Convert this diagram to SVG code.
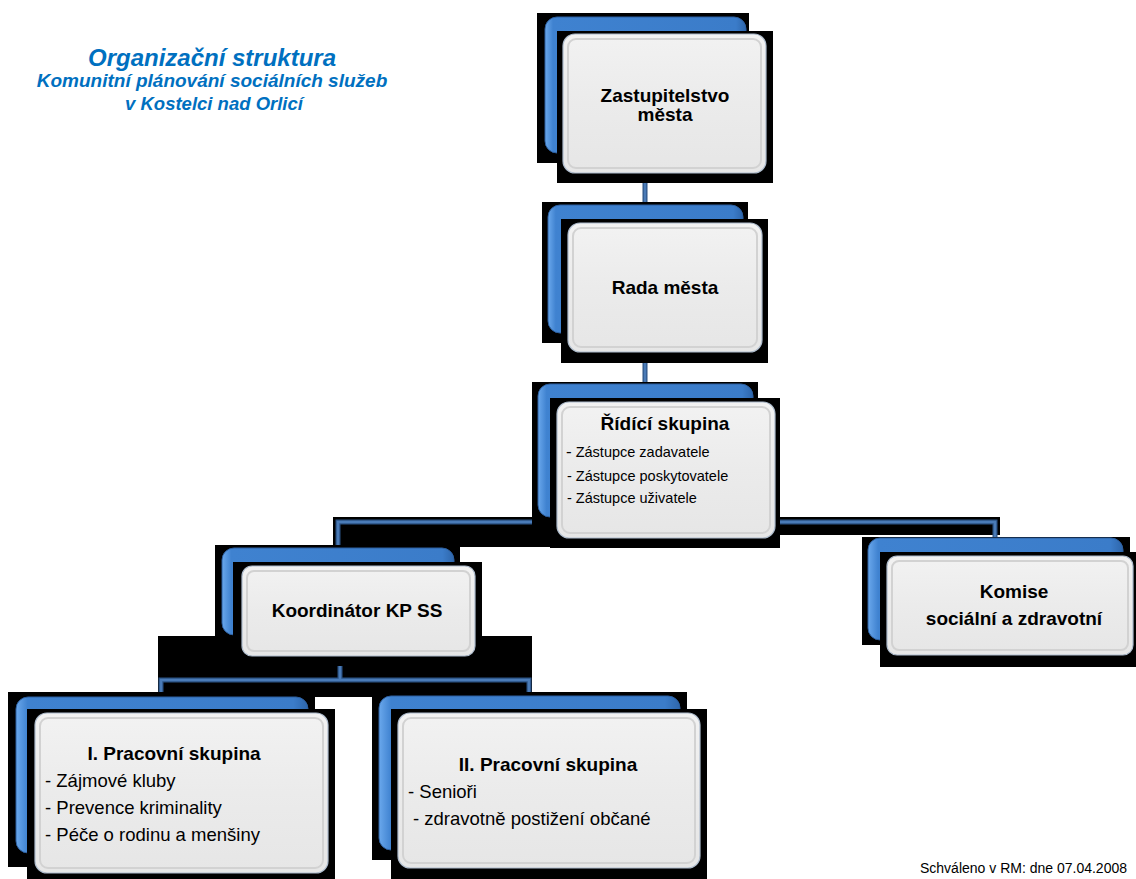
<svg xmlns="http://www.w3.org/2000/svg" width="1136" height="879" viewBox="0 0 1136 879">
<defs>
<linearGradient id="blueG" x1="0" y1="0" x2="1" y2="0">
<stop offset="0" stop-color="#6aa8ec"/>
<stop offset="0.04" stop-color="#3f82d0"/>
<stop offset="0.95" stop-color="#3b7cc9"/>
<stop offset="1" stop-color="#2e66ab"/>
</linearGradient>
<linearGradient id="grayG" x1="0" y1="0" x2="0" y2="1">
<stop offset="0" stop-color="#f2f2f2"/>
<stop offset="0.5" stop-color="#ebebeb"/>
<stop offset="1" stop-color="#e6e6e6"/>
</linearGradient>
</defs>
<style>
.blk{fill:#000}
.blue{fill:url(#blueG);stroke:#2d5f9f;stroke-width:1}
.gray{fill:url(#grayG);stroke:#aebccd;stroke-width:1.2}
.bevel{fill:none;stroke:#d2d2d2;stroke-width:2}
.t{font-family:"Liberation Sans",Arial,sans-serif;fill:#000}
.b{font-weight:bold;font-size:19px;text-anchor:middle}
.s{font-size:14.5px}
.m{font-size:18.5px}
.head{font-family:"Liberation Sans",Arial,sans-serif;font-weight:bold;font-style:italic;fill:#0070c0;text-anchor:middle}
.lo{fill:none;stroke:#2b5283;stroke-width:5}
.li{fill:none;stroke:#4a7bb7;stroke-width:2.6}
</style>
<rect width="1136" height="879" fill="#fff"/>

<g id="title">
<text class="head" x="212" y="66" font-size="24">Organizační struktura</text>
<text class="head" x="212" y="87" font-size="19">Komunitní plánování sociálních služeb</text>
<text class="head" x="214" y="110" font-size="18.5">v Kostelci nad Orlicí</text>
</g>

<g id="connectors">
<rect class="blk" x="333" y="517" width="667" height="18"/>
<rect class="blk" x="333" y="517" width="224" height="30"/>
<rect class="blk" x="158" y="636" width="374" height="61"/>
<path class="lo" d="M645,173 V205 M645,352 V384 M338,548 V522 H995 V538 M340,656 V680 M161,697 V680 H529 V697"/>
<path class="li" d="M645,173 V205 M645,352 V384 M338,548 V522 H995 V538 M340,656 V680 M161,697 V680 H529 V697"/>
</g>

<g id="zastupitelstvo">
<rect class="blk" x="537" y="13" width="212" height="150"/>
<rect class="blue" x="545" y="17" width="201" height="136" rx="12"/>
<rect class="blk" x="557" y="31" width="216" height="152"/>
<rect class="gray" x="563" y="34" width="203" height="139" rx="12"/>
<rect class="bevel" x="568" y="39" width="193" height="129" rx="8"/>
<text class="t b" x="665" y="102">Zastupitelstvo</text>
<text class="t b" x="665" y="121">města</text>
</g>

<g id="rada">
<rect class="blk" x="542" y="202" width="206" height="141"/>
<rect class="blue" x="548" y="205" width="195" height="128" rx="12"/>
<rect class="blk" x="561" y="219" width="207" height="144"/>
<rect class="gray" x="568" y="223" width="194" height="129" rx="12"/>
<rect class="bevel" x="573" y="228" width="184" height="119" rx="8"/>
<text class="t b" x="665" y="294">Rada města</text>
</g>

<g id="ridici">
<rect class="blk" x="532" y="382" width="226" height="145"/>
<rect class="blue" x="538" y="384" width="215" height="133" rx="12"/>
<rect class="blk" x="550" y="398" width="230" height="150"/>
<rect class="gray" x="557" y="402" width="218" height="136" rx="12"/>
<rect class="bevel" x="562" y="407" width="208" height="126" rx="8"/>
<text class="t b" x="665" y="430">Řídící skupina</text>
<text class="t s" x="566" y="457"><tspan font-size="17px">-</tspan> Zástupce zadavatele</text>
<text class="t s" x="567" y="481">- Zástupce poskytovatele</text>
<text class="t s" x="567" y="503">- Zástupce uživatele</text>
</g>

<g id="koordinator">
<rect class="blk" x="215" y="545" width="245" height="92"/>
<rect class="blue" x="222" y="548" width="232" height="87" rx="12"/>
<rect class="blk" x="233" y="562" width="249" height="104"/>
<rect class="gray" x="242" y="566" width="233" height="90" rx="10"/>
<rect class="bevel" x="247" y="571" width="223" height="80" rx="7"/>
<text class="t b" x="357" y="617" font-size="17.5px">Koordinátor KP SS</text>
</g>

<g id="komise">
<rect class="blk" x="862" y="537" width="268" height="108"/>
<rect class="blue" x="868" y="538" width="255" height="102" rx="12"/>
<rect class="blk" x="880" y="552" width="256" height="115"/>
<rect class="gray" x="887" y="556" width="246" height="99" rx="10"/>
<rect class="bevel" x="892" y="561" width="236" height="89" rx="7"/>
<text class="t b" x="1014" y="598">Komise</text>
<text class="t b" x="1014" y="625">sociální a zdravotní</text>
</g>

<g id="pracovni1">
<rect class="blk" x="8" y="692" width="307" height="175"/>
<rect class="blue" x="16" y="697" width="292" height="156" rx="12"/>
<rect class="blk" x="27" y="709" width="308" height="170"/>
<rect class="gray" x="35" y="713" width="293" height="160" rx="12"/>
<rect class="bevel" x="40" y="718" width="283" height="150" rx="8"/>
<text class="t b" x="174" y="760">I. Pracovní skupina</text>
<text class="t m" x="45" y="787">- Zájmové kluby</text>
<text class="t m" x="45" y="814">- Prevence kriminality</text>
<text class="t m" x="45" y="841">- Péče o rodinu a menšiny</text>
</g>

<g id="pracovni2">
<rect class="blk" x="372" y="692" width="315" height="168"/>
<rect class="blue" x="379" y="696" width="301" height="154" rx="12"/>
<rect class="blk" x="391" y="709" width="316" height="170"/>
<rect class="gray" x="398" y="713" width="302" height="155" rx="12"/>
<rect class="bevel" x="403" y="718" width="292" height="145" rx="8"/>
<text class="t b" x="548" y="771">II. Pracovní skupina</text>
<text class="t m" x="408" y="798">- Senioři</text>
<text class="t m" x="413" y="825">- zdravotně postižení občané</text>
</g>

<text class="t" x="1127" y="873" font-size="14px" text-anchor="end">Schváleno  v RM: dne 07.04.2008</text>
</svg>
